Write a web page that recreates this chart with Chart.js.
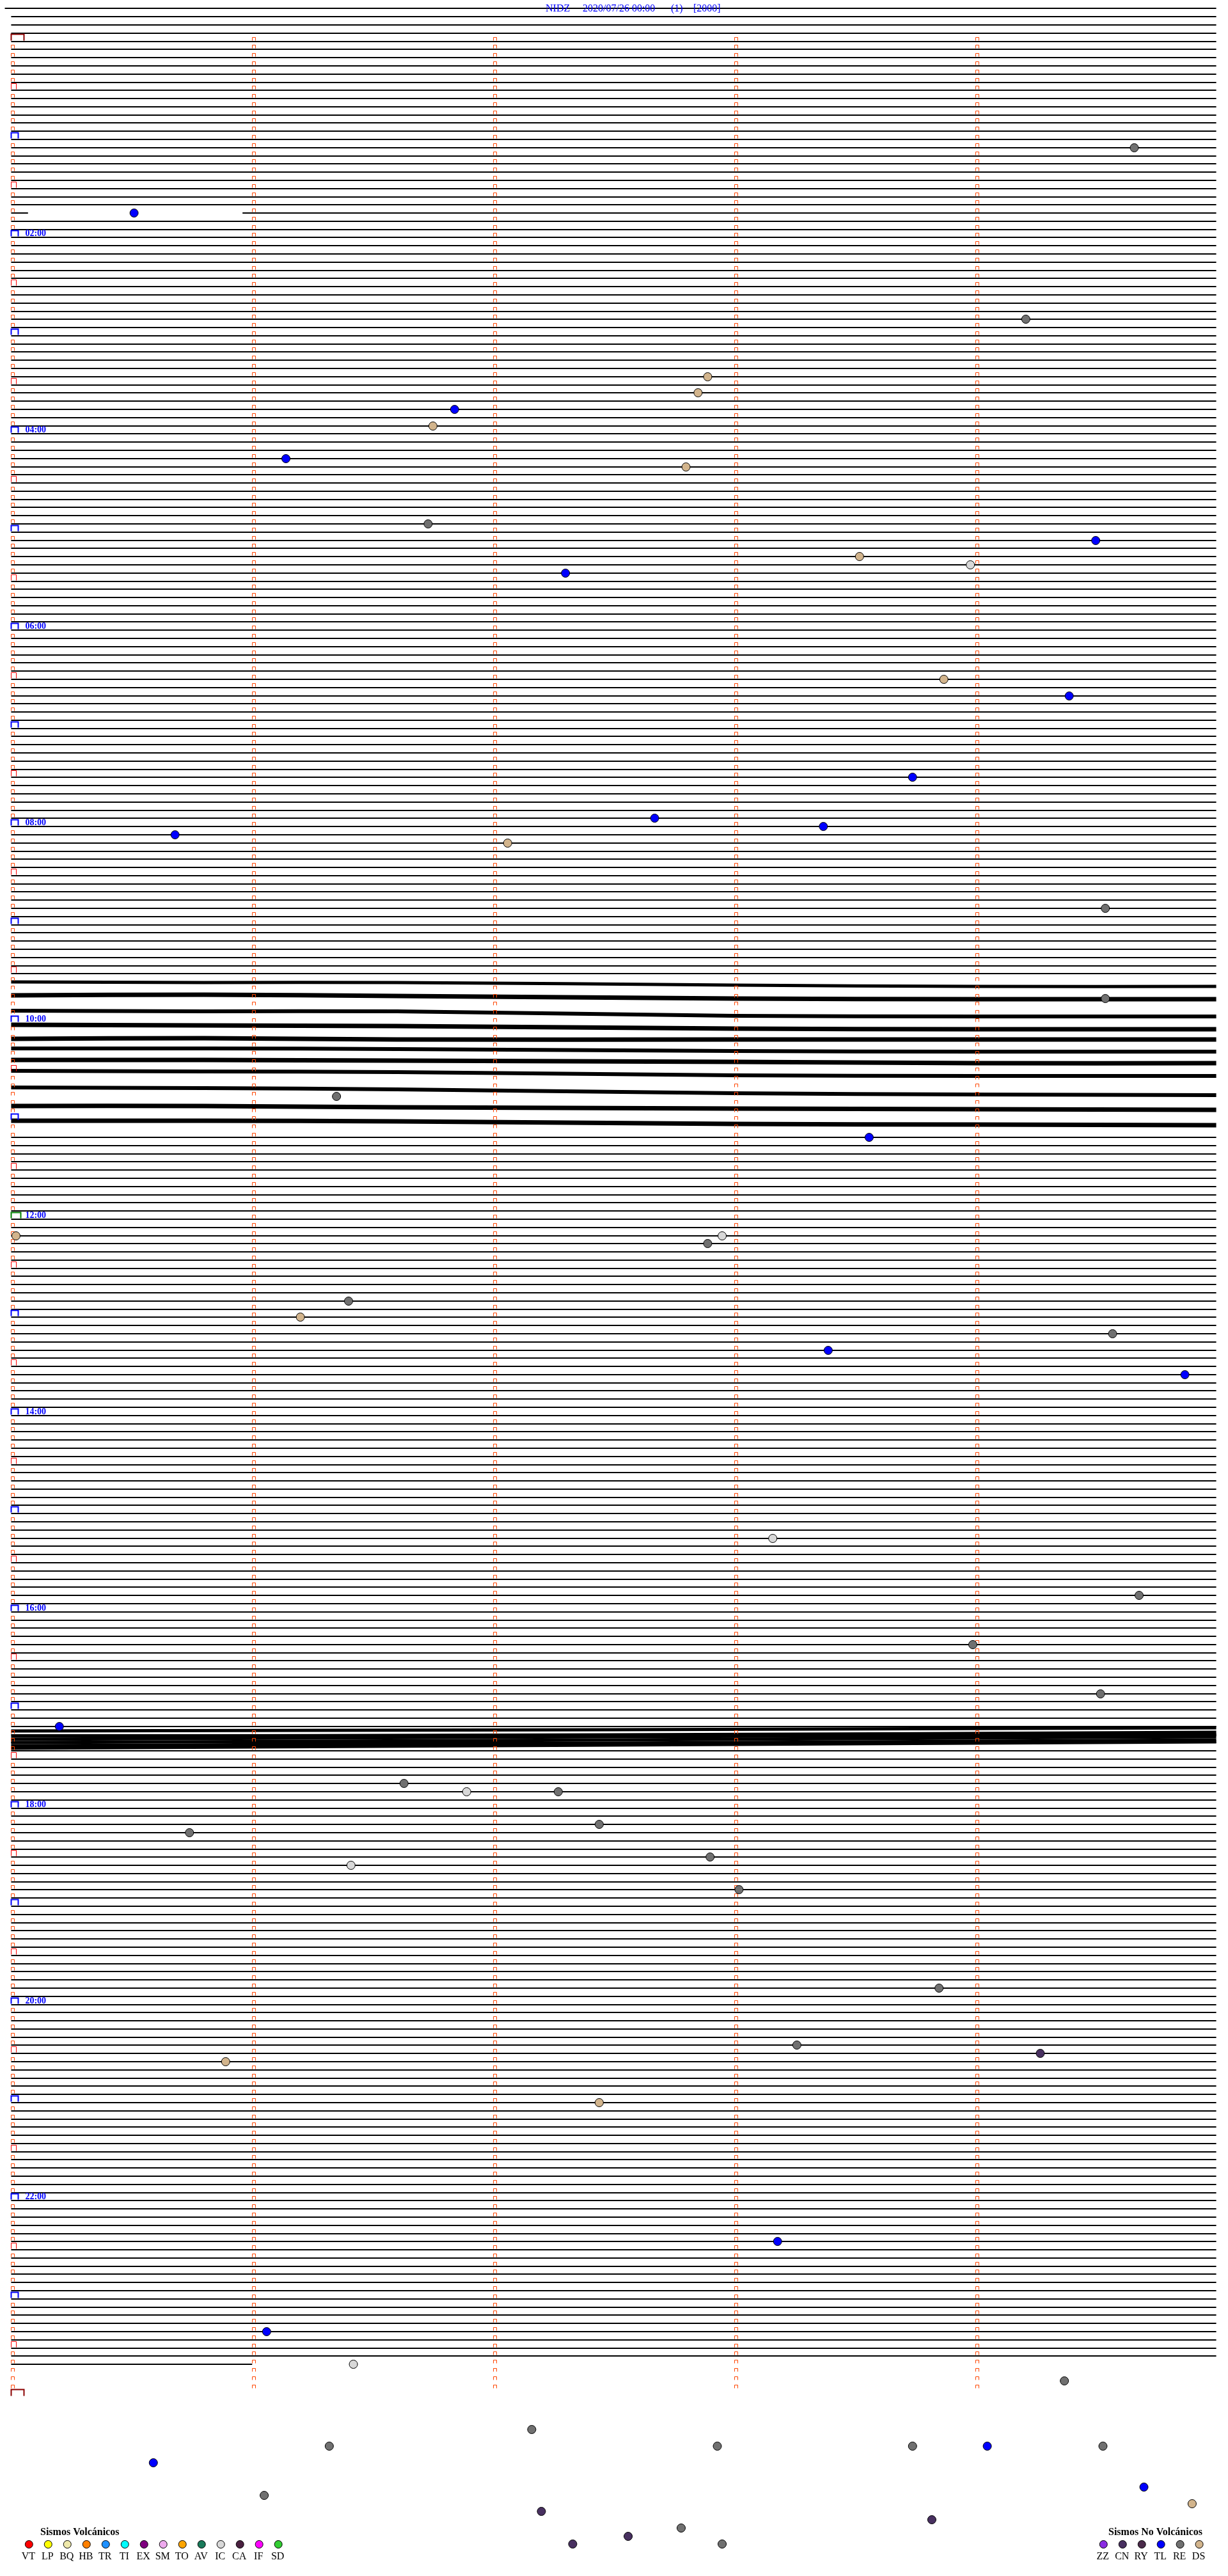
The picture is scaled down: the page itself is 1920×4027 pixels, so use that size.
<!DOCTYPE html>
<html>
<head>
<meta charset="utf-8">
<script src="https://cdn.jsdelivr.net/npm/chart.js@4/dist/chart.umd.min.js"></script>
<style>
html,body{margin:0;padding:0;background:#fff;}
#wrap{position:relative;width:1920px;height:4027px;overflow:hidden;}
canvas{display:block;}
</style>
</head>
<body>
<div id="wrap"><canvas id="c" width="1920" height="4027"></canvas></div>
<script>
// ================= DATA =================
const station = "NIDZ";
const startLabel = "2020/07/26 00:00";
const channelLabel = "(1)";
const gainLabel = "[2000]";

const minutesPerRow = 5;          // each trace line = 5 minutes
const totalRows = 288;            // 24 h
const minuteTicks = [0, 1, 2, 3, 4];
const hourLabels = ["02:00", "04:00", "06:00", "08:00", "10:00", "12:00", "14:00", "16:00", "18:00", "20:00", "22:00"];
const leadRows = [-4, -3, -2, -1];          // empty lines above 00:00
const dataEndMinute = 1421.0;               // record ends at 23:41
const gapRows = [21];                        // rows with a data gap
const gapFrom = [0.07];
const gapTo = [0.96];
const noisyFirstRow = 115;                  // rows drawn as waveform bands
const noisyLastRow = 133;

// waveform bands 09:35-11:05 (row position of each band, read at bandX minutes)
const bandX = [0, 0.8, 1.6, 3.0, 4.0, 5.0];
const bandA = [115.02, 115.05, 115.10, 115.40, 115.50, 115.56];
const bandB = [116.60, 116.55, 116.70, 117.05, 117.10, 117.12];
const bandC = [118.50, 118.55, 118.60, 119.10, 119.20, 119.22];
const bandD = [120.25, 120.30, 120.35, 120.70, 120.75, 120.80];
const bandE = [121.95, 121.90, 122.00, 122.00, 122.05, 122.04];
const bandF = [123.10, 123.15, 123.20, 123.45, 123.50, 123.50];
const bandG = [124.50, 124.55, 124.60, 124.80, 124.90, 124.90];
const bandH = [125.90, 125.95, 126.00, 126.40, 126.45, 126.50];
const bandI = [127.90, 127.95, 128.10, 128.60, 128.75, 128.80];
const bandJ = [130.20, 130.20, 130.30, 130.50, 130.55, 130.60];
const bandK = [131.95, 131.95, 132.05, 132.35, 132.45, 132.50];

// overlapping traces around 17:10
const bundleX = [0, 2.5, 5];
const bundle1 = [206.6, 206.4, 206.2];
const bundle2 = [207.2, 207.0, 206.75];
const bundle3 = [207.6, 207.3, 207.0];
const bundle4 = [208.0, 207.65, 207.3];
const bundle5 = [208.4, 208.05, 207.7];
const bundle6 = [208.7, 208.3, 207.9];

// events: minutes after 00:00 and type
const eventTimes = [69.66, 105.51, 174.21, 207.89, 217.85, 226.84, 236.75, 256.14, 262.80, 296.73,
  309.50, 318.52, 323.98, 327.30, 393.87, 404.39, 453.74, 477.67, 483.37, 485.68,
  492.06, 534.54, 589.54, 646.35, 673.56, 730.02, 737.89, 732.95, 771.40, 781.20,
  794.57, 803.39, 819.87, 918.16, 954.68, 983.99, 1014.52, 1030.20, 1066.63, 1071.89,
  1072.27, 1095.74, 1092.44, 1116.41, 1112.90, 1133.02, 1193.85, 1228.26, 1234.27, 1235.89,
  1262.44, 1348.18, 1401.06, 1421.42, 1434.37, 1462.16, 1471.32, 1472.93, 1473.74, 1474.05,
  1474.53, 1480.59, 1499.70, 1509.90, 1501.05, 1512.20, 1518.82, 1522.78, 1532.33, 1527.56,
  1532.95];
const eventTypes = ["RE", "TL", "RE", "DS", "DS", "TL", "DS", "TL", "DS", "RE",
  "TL", "DS", "IC", "TL", "DS", "TL", "TL", "TL", "TL", "TL",
  "DS", "RE", "RE", "RE", "TL", "DS", "RE", "IC", "RE", "DS",
  "RE", "TL", "TL", "IC", "RE", "RE", "RE", "TL", "RE", "IC",
  "RE", "RE", "RE", "IC", "RE", "RE", "RE", "RE", "CN", "DS",
  "DS", "TL", "TL", "IC", "RE", "RE", "RE", "RE", "RE", "TL",
  "RE", "TL", "TL", "DS", "RE", "CN", "CN", "RE", "CN", "CN",
  "RE"];

const volcanicTypes = ["VT", "LP", "BQ", "HB", "TR", "TI", "EX", "SM", "TO", "AV", "IC", "CA", "IF", "SD"];
const volcanicColors = ["#ff0000", "#ffff00", "#eee8aa", "#ff8000", "#1e90ff", "#00ffff", "#800080", "#eeaaee", "#ffa500", "#1a7a5a", "#d8d8d8", "#4a2040", "#ff00ff", "#32cd32"];
const nonVolcanicTypes = ["ZZ", "CN", "RY", "TL", "RE", "DS"];
const nonVolcanicColors = ["#8a2be2", "#483060", "#4a2a4a", "#0000ff", "#707070", "#d2b48c"];

// ================= BUILD =================
const typeColor = {};
volcanicTypes.forEach((t, i) => typeColor[t] = volcanicColors[i]);
nonVolcanicTypes.forEach((t, i) => typeColor[t] = nonVolcanicColors[i]);

// linear scale that snaps to the pixel grid (crisp trace lines like a helicorder raster)
class SnapScale extends Chart.LinearScale {
  getPixelForValue(v) {
    const p = super.getPixelForValue(v);
    return isNaN(p) ? p : Math.round(p);
  }
}
SnapScale.id = "snap";
SnapScale.defaults = Chart.LinearScale.defaults;
Chart.register(SnapScale);

const PX_PER_MIN = 379.8, ORIGIN_X = 10;
const PX_PER_ROW = 12.835, ORIGIN_Y = 57.3;
const W = 1920, H = 4027;
const xMin = -ORIGIN_X / PX_PER_MIN, xMax = (W - ORIGIN_X) / PX_PER_MIN;
const yMin = -ORIGIN_Y / PX_PER_ROW, yMax = (H - ORIGIN_Y) / PX_PER_ROW;

const traceData = [];
function seg(r, a, b) { traceData.push({x: a, y: r}, {x: b, y: r}, {x: b, y: null}); }
leadRows.forEach((r, i) => seg(r, i === 0 ? xMin : 0, minutesPerRow));
const lastRow = Math.floor(dataEndMinute / minutesPerRow);
for (let r = 0; r <= lastRow; r++) {
  if (r >= noisyFirstRow && r <= noisyLastRow) continue;
  const end = r === lastRow ? dataEndMinute - r * minutesPerRow : minutesPerRow;
  const g = gapRows.indexOf(r);
  if (g >= 0) { seg(r, 0, gapFrom[g]); seg(r, gapTo[g], end); }
  else seg(r, 0, end);
}

function band(ys, xs) { return ys.map((v, i) => ({x: xs[i], y: v})); }
const bands = [bandA, bandB, bandC, bandD, bandE, bandF, bandG, bandH, bandI, bandJ, bandK];
const bandWidths = [5, 7, 6, 7, 7, 6, 7, 6, 6, 7, 7];
const bundles = [bundle1, bundle2, bundle3, bundle4, bundle5, bundle6];

const eventPoints = eventTimes.map(t => {
  const row = Math.floor(t / minutesPerRow);
  return {x: t - row * minutesPerRow, y: row};
});
const eventColors = eventTypes.map(t => typeColor[t]);

const datasets = [];
datasets.push({
  label: "events", data: eventPoints, showLine: false,
  pointRadius: 6.5, pointHoverRadius: 6.5, pointBackgroundColor: eventColors,
  pointBorderColor: "#000", pointBorderWidth: 1, clip: false
});
bands.forEach((b, i) => datasets.push({
  label: "band" + i, data: band(b, bandX), borderColor: "#000", borderWidth: bandWidths[i],
  pointRadius: 0, tension: 0.35, borderCapStyle: "butt"
}));
bundles.forEach((b, i) => datasets.push({
  label: "bundle" + i, data: band(b, bundleX), borderColor: "#000", borderWidth: 5,
  pointRadius: 0, tension: 0.35
}));
datasets.push({
  label: "traces", data: traceData, borderColor: "#000", borderWidth: 2,
  pointRadius: 0, spanGaps: false, tension: 0, clip: false
});

// ================= DECORATIONS =================
function bracket(ctx, x, yb, w, h, color, lw) {
  ctx.strokeStyle = color; ctx.lineWidth = lw;
  ctx.beginPath();
  ctx.moveTo(x, yb); ctx.lineTo(x, yb - h); ctx.lineTo(x + w, yb - h); ctx.lineTo(x + w, yb);
  ctx.stroke();
}
const decor = {
  id: "decor",
  beforeDatasetDraw(chart, args) {
    if (args.index !== 0) return;
    const ctx = chart.ctx, xs = chart.scales.x, ys = chart.scales.y;
    ctx.save();
    for (let r = 0; r <= totalRows; r++) {
      const yb = ys.getPixelForValue(r) - 1.5;
      minuteTicks.forEach(m => {
        if (r === totalRows && m > 0) return;
        const x0 = Math.round(xs.getPixelForValue(m)) + 0.5;
        if (m === 0 && (r === 0 || r === totalRows)) bracket(ctx, x0, yb, 20, 10, "#8b0000", 2);
        else if (m === 0 && r === totalRows / 2) bracket(ctx, x0, yb, 15, 9, "#008000", 2);
        else if (m === 0 && r % 12 === 0) bracket(ctx, x0, yb, 11, 9, "#0000ff", 2);
        else if (m === 0 && r % 6 === 0) bracket(ctx, x0, yb, 8, 9, "#ff0000", 1);
        else bracket(ctx, x0, yb, 5, 5, "#ff4500", 1);
      });
    }
    ctx.restore();
  },
  afterDraw(chart) {
    const ctx = chart.ctx, xs = chart.scales.x, ys = chart.scales.y;
    ctx.save();
    // title
    ctx.fillStyle = "#0000ff";
    ctx.font = "16px 'Liberation Serif'";
    ctx.textBaseline = "alphabetic";
    ctx.textAlign = "left";
    ctx.fillText(station, 853, 18);
    ctx.fillText(startLabel, 911, 18);
    ctx.fillText(channelLabel, 1049, 18);
    ctx.fillText(gainLabel, 1084, 18);
    // hour labels
    ctx.font = "bold 14px 'Liberation Serif'";
    hourLabels.forEach(lbl => {
      const h = parseInt(lbl, 10);
      const row = h * 60 / minutesPerRow;
      ctx.fillText(lbl, xs.getPixelForValue(0) + 22, ys.getPixelForValue(row) - 2);
    });
    // legend
    ctx.fillStyle = "#000";
    ctx.font = "bold 16px 'Liberation Serif'";
    ctx.fillText("Sismos Volcánicos", 63, 3963);
    ctx.textAlign = "right";
    ctx.fillText("Sismos No Volcánicos", 1880, 3963);
    ctx.font = "16px 'Liberation Serif'";
    ctx.textAlign = "center";
    const drawItem = (x, color, label) => {
      ctx.beginPath();
      ctx.arc(x, 3977.5, 6, 0, Math.PI * 2);
      ctx.fillStyle = color; ctx.fill();
      ctx.lineWidth = 1; ctx.strokeStyle = "#000"; ctx.stroke();
      ctx.fillStyle = "#000";
      ctx.fillText(label, x - 1, 4001);
    };
    volcanicTypes.forEach((t, i) => drawItem(45.3 + i * 29.99, volcanicColors[i], t));
    nonVolcanicTypes.forEach((t, i) => drawItem(1725.3 + i * 29.96, nonVolcanicColors[i], t));
    ctx.restore();
  }
};

new Chart(document.getElementById("c"), {
  type: "line",
  data: {datasets},
  options: {
    responsive: false, animation: false, devicePixelRatio: 1, events: [],
    layout: {padding: 0},
    plugins: {legend: {display: false}, tooltip: {enabled: false}, title: {display: false}},
    scales: {
      x: {type: "linear", display: false, min: xMin, max: xMax},
      y: {type: "snap", display: false, reverse: true, min: yMin, max: yMax}
    }
  },
  plugins: [decor]
});
</script>
</body>
</html>
